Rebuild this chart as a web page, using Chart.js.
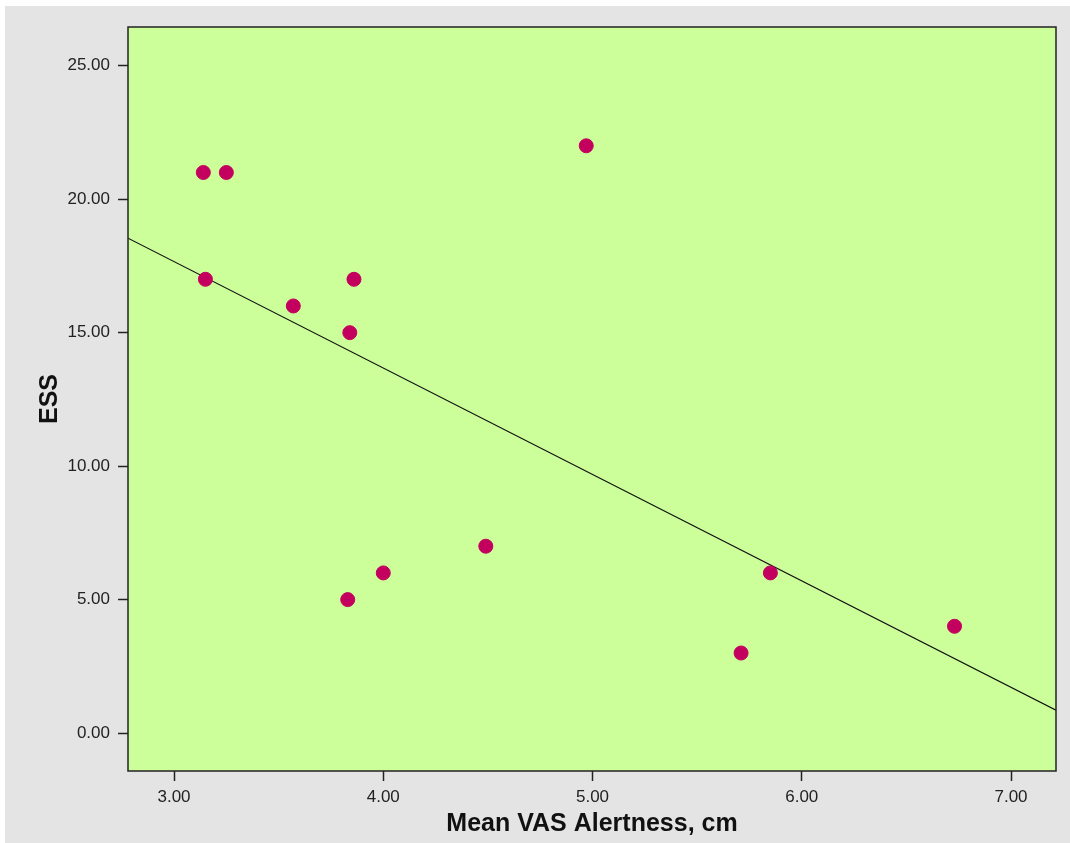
<!DOCTYPE html>
<html>
<head>
<meta charset="utf-8">
<script src="https://cdn.jsdelivr.net/npm/chart.js@4.4.0/dist/chart.umd.min.js"></script>
<style>
  body { margin: 0; background: #ffffff; }
  #wrap { position: absolute; left: 5px; top: 6px; width: 1065px; height: 837px; background: #e4e4e4; }
</style>
</head>
<body>
<div id="wrap"><canvas id="myChart" width="1065" height="837"></canvas></div>
<script>
// observed points (Mean VAS Alertness, ESS)
const vasX = [3.14, 3.25, 3.15, 3.57, 3.86, 3.84, 4.97, 3.83, 4.00, 4.49, 5.71, 5.85, 6.73]
const essY = [21, 21, 17, 16, 17, 15, 22, 5, 6, 7, 3, 6, 4]

// fit line, read at the edges of the plot
const fitX = [2.78, 7.215]
const fitY = [18.54, 0.86]

const yTicks = [0, 5, 10, 15, 20, 25]
const xTicks = [3, 4, 5, 6, 7]

const plotBg = {
    id: "plotBg",
    beforeDraw(chart) {
        const { ctx, chartArea: a } = chart
        ctx.save()
        ctx.fillStyle = "#ccff99"
        ctx.fillRect(a.left, a.top, a.right - a.left, a.bottom - a.top)
        ctx.restore()
    },
    afterDraw(chart) {
        const { ctx, chartArea: a } = chart
        ctx.save()
        ctx.strokeStyle = "#222"
        ctx.lineWidth = 1.5
        ctx.strokeRect(a.left, a.top, a.right - a.left, a.bottom - a.top)
        ctx.restore()
    }
}

const tickFont = { family: "Liberation Sans, Arial", size: 17 }
const titleFont = { family: "Liberation Sans, Arial", size: 25, weight: "bold" }

new Chart(document.querySelector("#myChart"), {
    type: "scatter",
    data: {
        datasets: [
            {
                data: vasX.map((x, i) => ({ x: x, y: essY[i] })),
                backgroundColor: "#c4005f",
                borderColor: "#c4005f",
                pointRadius: 7,
                pointHoverRadius: 7
            },
            {
                type: "line",
                data: fitX.map((x, i) => ({ x: x, y: fitY[i] })),
                borderColor: "#111",
                borderWidth: 1.2,
                pointRadius: 0,
                fill: false
            }
        ]
    },
    options: {
        responsive: false,
        animation: false,
        layout: { padding: { top: 21, right: 14, left: 0, bottom: 0 } },
        plugins: { legend: { display: false }, tooltip: { enabled: false } },
        scales: {
            x: {
                type: "linear",
                min: 2.78,
                max: 7.215,
                afterBuildTicks: (s) => { s.ticks = xTicks.map(v => ({ value: v })) },
                afterFit: (s) => { s.height = 72 },
                grid: { drawOnChartArea: false, color: "#222", tickLength: 10, tickWidth: 1.5 },
                border: { display: false },
                ticks: { color: "#222", font: tickFont, padding: 6, callback: v => v.toFixed(2) },
                title: { display: true, text: "Mean VAS Alertness, cm", color: "#111", font: titleFont, padding: { top: 5 } }
            },
            y: {
                type: "linear",
                min: -1.42,
                max: 26.45,
                afterBuildTicks: (s) => { s.ticks = yTicks.map(v => ({ value: v })) },
                afterFit: (s) => { s.width = 123 },
                grid: { drawOnChartArea: false, color: "#222", tickLength: 10, tickWidth: 1.5 },
                border: { display: false },
                ticks: { color: "#222", font: tickFont, padding: 8, callback: v => v.toFixed(2) },
                title: { display: true, text: "ESS", color: "#111", font: titleFont, padding: { bottom: 0, top: 30 } }
            }
        }
    },
    plugins: [plotBg]
})
</script>
</body>
</html>
